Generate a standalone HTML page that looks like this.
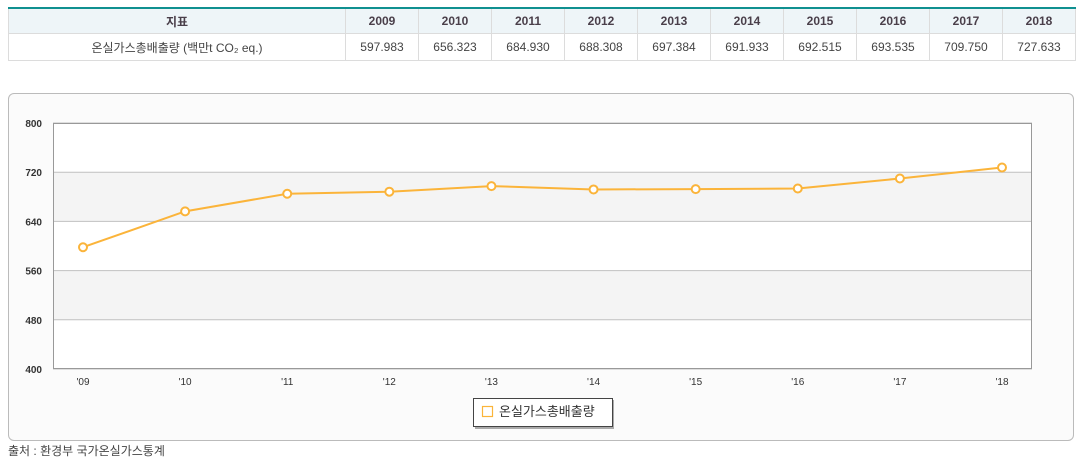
<!DOCTYPE html>
<html><head><meta charset="utf-8"><style>
body{margin:0;width:1083px;height:466px;background:#fff;font-family:"Liberation Sans","Noto Sans CJK KR",sans-serif;position:relative;overflow:hidden}
table{position:absolute;left:8px;top:7px;border-collapse:collapse;border-top:2px solid #0f9090;font-size:12px;color:#444}
td,th{border:1px solid #dcdcdc;text-align:center;padding:0}
th{background:#eef5f8;height:24px;font-weight:bold;color:#4a3f4a}
td{height:26px}
#box{position:absolute;left:8px;top:93px;width:1064px;height:346px;border:1px solid #bbb;border-radius:6px;background:#fbfbfb}
#src{position:absolute;left:8px;top:442px;font-size:12px;color:#444}
</style></head><body>
<table>
<tr><th style="width:336px">지표</th><th style="width:72px">2009</th><th style="width:72px">2010</th><th style="width:72px">2011</th><th style="width:72px">2012</th><th style="width:72px">2013</th><th style="width:72px">2014</th><th style="width:72px">2015</th><th style="width:72px">2016</th><th style="width:72px">2017</th><th style="width:72px">2018</th></tr>
<tr><td>온실가스총배출량 (백만t CO₂ eq.)</td><td>597.983</td><td>656.323</td><td>684.930</td><td>688.308</td><td>697.384</td><td>691.933</td><td>692.515</td><td>693.535</td><td>709.750</td><td>727.633</td></tr>
</table>
<div id="box"></div>
<svg id="chart" width="1083" height="466" style="position:absolute;left:0;top:0"></svg>
<div id="src">출처 : 환경부 국가온실가스통계</div>
<script>
const categories=["'09","'10","'11","'12","'13","'14","'15","'16","'17","'18"];
const values=[597.983,656.323,684.930,688.308,697.384,691.933,692.515,693.535,709.750,727.633];
const yTicks=[400,480,560,640,720,800];
const NS="http://www.w3.org/2000/svg";
const svg=document.getElementById('chart');
const L=53,R=1032,T=123,B=369,pad=30;
const x=i=>L+pad+i*(R-L-2*pad)/(categories.length-1);
const y=v=>B-(v-400)/(800-400)*(B-T);
function mk(t,a){const e=document.createElementNS(NS,t);for(const k in a)e.setAttribute(k,a[k]);svg.appendChild(e);return e;}
const bg=mk('rect',{x:L,y:T,width:R-L,height:B-T,fill:'#fff'});


for(let i=0;i<yTicks.length-1;i++){if(i%2===1){const r=mk('rect',{x:L,y:y(yTicks[i+1]),width:R-L,height:y(yTicks[i])-y(yTicks[i+1]),fill:'#f4f4f4'});

}}
yTicks.forEach(v=>{const l=mk('line',{x1:L,x2:R,y1:y(v),y2:y(v),stroke:'#c0c0c0'});


const t=mk('text',{x:42,y:y(v)+4,'text-anchor':'end','font-size':10,fill:'#333','font-weight':'bold'});t.textContent=v;

});
const fr=mk('rect',{x:L+0.5,y:T+0.5,width:R-L-1,height:B-T-1,fill:'none',stroke:'#999'});


categories.forEach((c,i)=>{const t=mk('text',{x:x(i),y:385,'text-anchor':'middle','font-size':10,fill:'#333'});t.textContent=c;

});
const pl=mk('polyline',{points:values.map((v,i)=>x(i)+','+y(v)).join(' '),fill:'none',stroke:'#fbb43a','stroke-width':2});


values.forEach((v,i)=>{const c=mk('circle',{cx:x(i),cy:y(v),r:4,fill:'#fff',stroke:'#fbb43a','stroke-width':2});

});
const sh=mk('rect',{x:475,y:400,width:139,height:29,fill:'#aaa'});


const lb=mk('rect',{x:473.5,y:398.5,width:139,height:28,fill:'#fff',stroke:'#444'});


const ls=mk('rect',{x:482.5,y:406.5,width:10,height:10,fill:'#fff',stroke:'#fbb43a','stroke-width':1.2});


const lt=mk('text',{x:499,y:416,'font-size':13,fill:'#333'});lt.textContent='온실가스총배출량';


</script>
</body></html>
